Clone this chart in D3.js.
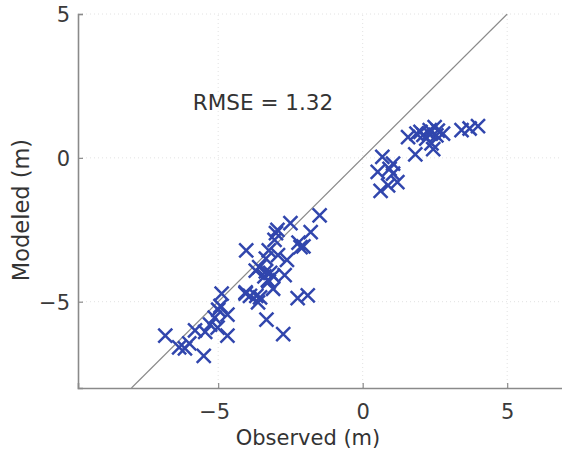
<!DOCTYPE html>
<html><head><meta charset="utf-8">
<script src="https://cdn.jsdelivr.net/npm/d3@7"></script>
<style>body{margin:0;background:#fff}svg{display:block}</style>
</head><body><svg id="c" width="562" height="452"></svg>
<script>
const observed = [
 -6.83,-6.35,-6.15,-6.0,-5.50,-5.80,-5.45,-5.28,-5.12,-5.02,-5.0,-4.92,-4.68,-4.68,-4.88,-4.05,-3.68,-3.62,-3.33,-2.75,-2.25,-1.90,
 -1.49,-2.50,-3.00,-3.05,-2.95,-1.80,-2.22,-2.05,-4.03,-3.25,-2.93,-2.62,-3.35,-3.58,-3.70,-3.40,-3.28,-3.20,-3.10,-2.70,-3.10,-3.55,-4.05,-3.90,-3.35,-3.25,-2.15,
 0.68,0.52,0.62,0.93,1.05,1.05,1.20,0.88,1.82,1.57,1.86,2.00,2.10,2.32,2.49,2.55,2.78,2.20,2.38,2.44,2.30,3.42,3.70,3.99,2.60
];
const modeled = [
 -6.18,-6.59,-6.62,-6.45,-6.88,-6.00,-6.05,-5.80,-5.55,-5.90,-5.28,-5.15,-5.45,-6.18,-4.72,-4.72,-4.80,-5.02,-5.62,-6.13,-4.88,-4.78,
 -2.00,-2.27,-2.62,-2.85,-2.50,-2.58,-2.95,-3.08,-3.22,-3.22,-3.38,-3.55,-3.50,-3.80,-3.92,-4.12,-4.25,-4.00,-4.10,-4.08,-4.55,-4.85,-4.68,-4.80,-3.95,-4.30,-3.10,
 0.03,-0.49,-1.15,-0.38,-0.20,-0.55,-0.84,-0.96,0.12,0.72,0.84,0.90,0.80,0.96,1.07,0.78,0.84,0.67,0.50,0.30,0.85,0.96,1.02,1.10,0.95
];
const xTicks = [-5, 0, 5];
const yTicks = [-5, 0, 5];
const rmseLabel = "RMSE = 1.32";

const svg = d3.select("#c");
const x = d3.scaleLinear().domain([-9.85, 7]).range([78, 565]);
const y = d3.scaleLinear().domain([-8, 5]).range([388, 14]);
const font = "'DejaVu Sans', sans-serif";
const axisCol = "#8a8a8a";

svg.append("defs").append("clipPath").attr("id","clip")
  .append("rect").attr("x",78).attr("y",14).attr("width",487).attr("height",374);

// grid
const g = svg.append("g");
g.selectAll(".gx").data(xTicks).join("line")
  .attr("x1",d=>x(d)).attr("x2",d=>x(d)).attr("y1",y(-8)).attr("y2",y(5))
  .attr("stroke","#e2e2e2").attr("stroke-width",1).attr("stroke-dasharray","1,3");
g.selectAll(".gy").data(yTicks).join("line")
  .attr("y1",d=>y(d)).attr("y2",d=>y(d)).attr("x1",x(-9.85)).attr("x2",562)
  .attr("stroke","#e2e2e2").attr("stroke-width",1).attr("stroke-dasharray","1,3");

// axes
const fmt = d=>d<0?"\u2212"+Math.abs(d):d;
const xAxis = d3.axisBottom(x).tickValues(xTicks).tickSize(-5).tickFormat(fmt).tickPadding(16);
const yAxis = d3.axisLeft(y).tickValues(yTicks).tickSize(-5).tickFormat(fmt).tickPadding(8);
const ax = svg.append("g").attr("transform","translate(0,388)").call(xAxis);
const ay = svg.append("g").attr("transform","translate(78,0)").call(yAxis);
[ax, ay].forEach(a=>{
  a.select(".domain").attr("stroke",axisCol).attr("stroke-width",1.6);
  a.selectAll(".tick line").attr("stroke",axisCol).attr("stroke-width",1.2);
  a.selectAll(".tick text").attr("fill","#3a3a3a").style("font-family",font).style("font-size","21px");
});
ax.selectAll(".tick text").attr("dy","0.71em").attr("dx",d=>d<0?-4:0);
ay.selectAll(".tick text").attr("dy","0.36em");

// identity line
const plot = svg.append("g").attr("clip-path","url(#clip)");
plot.append("line").attr("x1",x(-8)).attr("y1",y(-8)).attr("x2",x(5)).attr("y2",y(5))
  .attr("stroke","#8a8a8a").attr("stroke-width",1.2);

// markers
const pts = observed.map((o,i)=>({o, m: modeled[i]}));
const s = 7;
plot.selectAll("path.pt").data(pts).join("path").attr("class","pt")
  .attr("d",d=>{const cx=x(d.o), cy=y(d.m);return `M${cx-s},${cy-s}L${cx+s},${cy+s}M${cx-s},${cy+s}L${cx+s},${cy-s}`;})
  .attr("stroke","#3146ad").attr("stroke-width",2.5).attr("fill","none");

// text
svg.append("text").attr("x",263).attr("y",110).attr("text-anchor","middle")
  .style("font-family",font).style("font-size","21.5px").attr("fill","#333").text(rmseLabel);
svg.append("text").attr("x",308).attr("y",445).attr("text-anchor","middle")
  .style("font-family",font).style("font-size","21px").attr("fill","#333").text("Observed (m)");
svg.append("text").attr("transform","translate(29,210) rotate(-90)").attr("text-anchor","middle")
  .style("font-family",font).style("font-size","22.5px").attr("fill","#333").text("Modeled (m)");
</script></body></html>
